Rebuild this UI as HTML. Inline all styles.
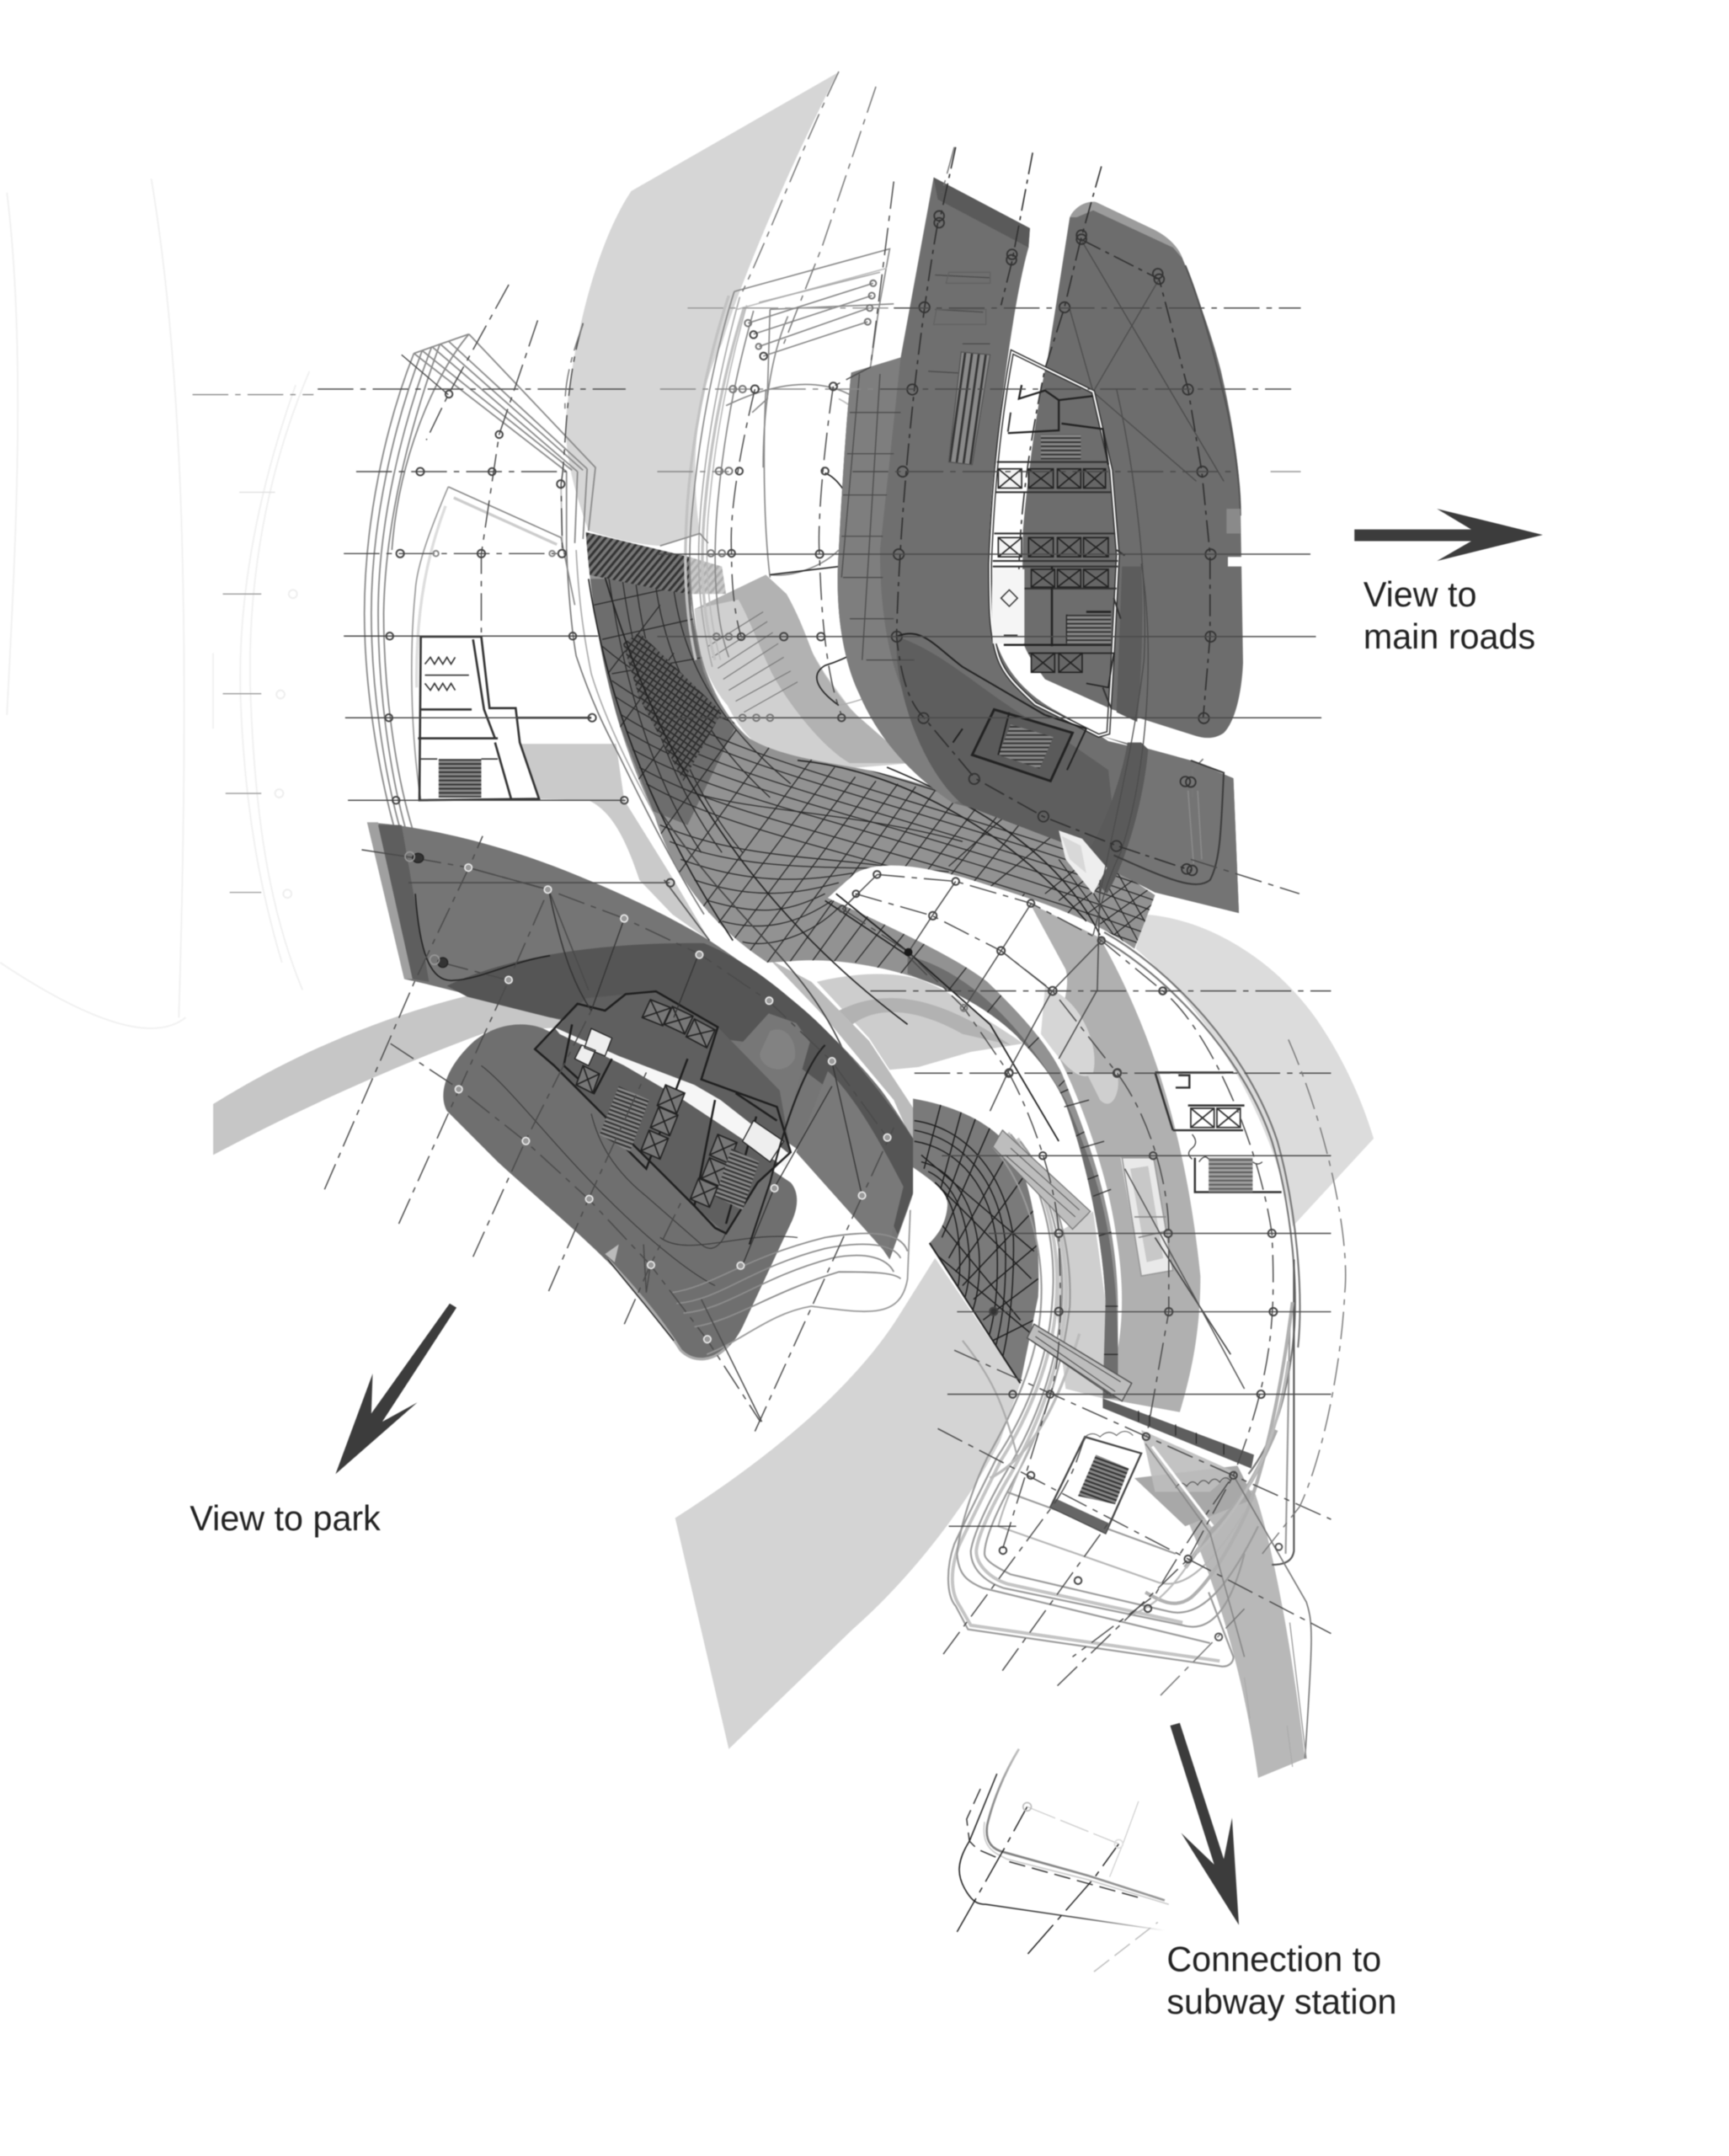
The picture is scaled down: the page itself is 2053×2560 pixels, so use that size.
<!DOCTYPE html>
<html>
<head>
<meta charset="utf-8">
<style>
html,body{margin:0;padding:0;background:#fff}
svg{display:block;filter:blur(0.5px)}
text{font-family:"Liberation Sans",sans-serif;font-size:25.3px;fill:#222}
</style>
</head>
<body>
<svg width="2053" height="2560" viewBox="0 0 1257.4 1568" xmlns="http://www.w3.org/2000/svg">
<defs>
<pattern id="hatch" width="4" height="4" patternUnits="userSpaceOnUse" patternTransform="rotate(40)"><rect width="4" height="4" fill="#777"/><rect width="1.8" height="4" fill="#333"/></pattern>
<pattern id="st" width="3" height="3" patternUnits="userSpaceOnUse"><rect width="3" height="3" fill="#888"/><rect width="3" height="1.2" fill="#333"/></pattern>
<pattern id="st2" width="5" height="3" patternUnits="userSpaceOnUse" patternTransform="rotate(8)"><rect width="5" height="3" fill="#8a8a8a"/><rect width="1.6" height="3" fill="#333"/></pattern>
<pattern id="st3" width="3" height="3" patternUnits="userSpaceOnUse" patternTransform="rotate(20)"><rect width="3" height="3" fill="#888"/><rect width="3" height="1.3" fill="#333"/></pattern>
<pattern id="dg" width="4" height="4" patternUnits="userSpaceOnUse" patternTransform="rotate(35)"><rect width="4" height="4" fill="#636363"/><rect width="1.1" height="4" fill="#2e2e2e"/><rect width="4" height="1.1" fill="#2e2e2e"/></pattern>
<linearGradient id="fadeR" x1="0" y1="0" x2="1" y2="0"><stop offset="0" stop-color="#222"/><stop offset=".6" stop-color="#555"/><stop offset="1" stop-color="#fff"/></linearGradient>
<linearGradient id="fadeT" x1="0" y1="1" x2="0.8" y2="0"><stop offset="0" stop-color="#666"/><stop offset=".5" stop-color="#999"/><stop offset="1" stop-color="#fff"/></linearGradient>
<clipPath id="mc"><path d="M426,387 L501,405 L503,445 C510,490 525,520 545,537 C570,552 610,555 640,562 C690,575 735,590 769,604 L840,651 L825,690 C790,665 745,652 700,638 C670,630 640,625 622,635 L602,653 L632,667 C670,685 700,700 718,714 C745,740 762,760 772,780 C790,825 812,880 813,947 L813,1017 L802,1017 L804,947 C802,900 790,845 775,803 C765,780 750,765 739,753 C720,735 695,720 663,710 C630,700 600,697 576,699 L558,700 C520,675 490,640 475,590 C450,540 432,470 426,387 Z"/></clipPath>
<clipPath id="lm"><path d="M664,799 C700,805 725,820 737,838 C750,860 757,900 755,943 L742,1006 L676,904 L689,877 L664,849 Z"/></clipPath>
</defs>
<rect width="1257.4" height="1568" fill="#fff"/>

<!-- faint ghosts far left -->
<g fill="none" stroke="#f1f1f1" stroke-width="1.2">
<path d="M225,270 C195,340 180,420 182,500 C185,590 195,660 220,720"/>
<path d="M215,280 C190,350 172,430 175,510 C178,590 190,650 205,700"/>
<path d="M5,140 C20,260 10,420 5,520"/>
<path d="M110,130 C130,250 140,420 130,740"/>
<path d="M0,700 C60,740 110,760 135,740"/>
<path d="M155,475 L155,530"/>
</g>
<g stroke="#999" stroke-width=".8" fill="none">
<path d="M174,358 L200,358" stroke="#ddd"/>
<path d="M162,432 L190,432"/>
<path d="M162,504.5 L190,504.5"/>
<path d="M164,577 L190,577"/>
<path d="M167,649 L190,649"/>
</g>
<g fill="none" stroke="#eee" stroke-width="1.2"><circle cx="213" cy="432" r="3"/><circle cx="204" cy="505" r="3"/><circle cx="203" cy="577" r="3"/><circle cx="209" cy="650" r="3"/></g>

<!-- light bands -->
<path d="M609,53 L459,139 C435,175 418,240 412,300 C410,325 415,350 428,386 C450,393 465,396 480,397 L509,388 C502,340 505,290 525,250 C540,200 575,120 609,53 Z" fill="#d6d6d6"/>
<path d="M491,1104 C560,1060 620,1010 653,958 L680,915 L742,1006 L727,1049 C700,1100 660,1150 620,1185 L530,1272 Z" fill="#d4d4d4"/>
<path d="M832,665 C880,668 930,700 960,745 C980,775 992,805 999,828 L940,892 C930,830 890,745 826,690 Z" fill="#dcdcdc"/>
<path d="M155,803 C200,775 260,745 333,726 L420,705 L450,745 L356,750 C300,770 220,805 155,840 Z" fill="#c6c6c6"/>
<path d="M378,541 L448,541 L454,582 L490,640 L516,684 L489,665 L465,640 C455,610 445,590 428,582 L392,581Z" fill="#cacaca"/>
<path d="M770,896 L795,881 L804,947 L802,1017 L775,1010 L768,950 Z" fill="#cfcfcf"/>
<path d="M854,1084 L912,1084 C925,1120 940,1200 949,1279 L915,1293 C905,1220 885,1150 854,1084 Z" fill="#b8b8b8"/>
<path d="M825,1075 L900,1066 L912,1090 L862,1110 Z" fill="#a8a8a8"/>

<!-- left wing outlines -->
<g fill="none" stroke="#8a8a8a" stroke-width="1.1">
<path d="M301,257 C280,310 265,380 265,446 C265,500 275,560 287,603"/>
<path d="M307,255 C286,310 270,380 270,446 C270,500 279,560 291,603"/>
<path d="M314,252 C292,310 275,380 275,446 C275,500 283,560 295,603"/>
<path d="M320,250 C298,310 280,380 279,446 C279,500 287,560 300,603"/>
<path d="M341,243 C318,270 290,330 285,400"/>
<path d="M301,257 L412,343"/><path d="M307,255 L416,342"/><path d="M314,252 L420,343"/><path d="M320,250 L424,342"/><path d="M326,248 L427,341"/><path d="M341,243 L433,340 L428,386"/>
<path d="M301,257 L341,243"/>
<path d="M412,343 L412,399"/><path d="M420,343 L418,395"/><path d="M427,341 L424,392"/>
<path d="M408,355 L409,400" stroke="#bbb"/>
</g>
<path d="M292,258 L326,287" stroke="#444" stroke-width=".8" fill="none"/>
<g fill="none" stroke="#777" stroke-width="1">
<path d="M412,399 C413,430 416,460 419,477 C430,510 440,530 450,549 C470,590 490,630 512,665"/>
<path d="M419,400 C421,440 425,465 430,490 C445,540 480,600 516,664" stroke="#aaa"/>
<path d="M326,354 L408,391 L418,440" stroke="#888"/>
<path d="M326,354 C315,380 303,410 302,430 C298,470 298,530 306,582" stroke="#999"/>
<path d="M330,362 L405,396" stroke="#ccc" stroke-width="2"/>
<path d="M324,368 C312,400 302,440 303,500" stroke="#ddd" stroke-width="2"/>
</g>
<g fill="none" stroke="#333" stroke-width="1.6">
<path d="M306,463 L350,463 L356,515 L375,515 L378,540 L392,581 L305,582 L306,463"/>
<path d="M305,516 L343,516"/><path d="M304,537 L362,537"/><path d="M360,540 L372,582"/>
<path d="M344,465 L352,516 L360,537"/><path d="M376,522 L430,522"/>
</g>
<rect x="319" y="552" width="31" height="28" fill="url(#st)"/>
<g fill="none" stroke="#333" stroke-width="1"><path d="M309,483 l4,-5 l3,5 l3,-5 l3,5 l3,-5 l3,5 l3,-5"/><path d="M309,491 h32"/><path d="M309,497 l4,5 l3,-5 l3,5 l3,-5 l3,5 l3,-5 l3,5"/><path d="M306,552 h12 M350,552 h12"/></g>

<!-- medium band & left part -->
<path d="M505,443 L557,418 L600,490 L640,545 L663,555 L615,559 C590,560 570,555 561,548 C545,540 535,525 529,513 C518,500 512,485 508,471 Z" fill="#d0d0d0"/>
<path d="M505,443 L557,418 L572,432 C585,455 590,475 594,481 C605,500 615,512 623,520 L663,555 L618,555 C600,545 575,515 561,489 C552,470 545,450 537,436 Z" fill="#b2b2b2"/>
<g fill="none" stroke="#777" stroke-width=".7"><path d="M515,470 L555,445 M518,478 L558,452 M522,486 L562,460 M526,494 L566,468 M530,502 L570,478 M535,510 L575,488 M541,518 L580,496"/></g>
<path d="M749,657 L800,682 C835,745 862,820 873,928 C873,970 866,1000 858,1027 L803,1017 C815,985 820,950 812,900 C805,850 785,800 775,779 L762,752 C775,735 778,715 775,705 Z" fill="#b0b0b0"/>
<path d="M760,718 C785,725 800,760 795,780 C785,790 770,770 757,752 Z" fill="#d6d6d6"/>
<path d="M790,780 L812,780 C816,790 810,810 800,800 Z" fill="#cfcfcf"/>
<!-- white lobe arcs behind -->
<path d="M594,714 C620,708 645,706 668,712 C685,718 695,725 708,735 C722,745 735,752 744,759 L706,765 L668,776 L647,778 L632,755 Z" fill="#cdcdcd"/>
<path d="M610,735 C650,715 690,730 735,760 L700,752 C670,735 640,730 620,745 Z" fill="#b2b2b2"/>
<path d="M560,698 L590,714 L632,757 L680,830 L700,880 L685,880 L650,800 L600,740 Z" fill="#bbb"/>
<path d="M834,876 L848,925 L830,928 L815,842 L839,842 Z" fill="#fff"/>

<!-- main mesh -->
<g clip-path="url(#mc)">
<rect x="400" y="370" width="450" height="660" fill="#929292"/>
<path d="M428,421 L501,421 L506,462 C512,495 522,515 534,530 L500,600 L475,590 L440,500 Z" fill="#6d6d6d"/>
<path d="M660,695 C700,705 740,740 775,800 C800,860 815,900 813,1017 L800,1017 C805,950 795,860 760,790 C730,750 700,725 660,708 Z" fill="#6e6e6e"/>
<g fill="none" stroke="#2c2c2c" stroke-width=".8">
<path d="M470,570 C540,610 640,620 840,690"/>
<path d="M465,558 C535,598 640,610 840,681"/>
<path d="M460,545 C530,585 640,600 840,672"/>
<path d="M456,532 C530,578 640,592 840,663"/>
<path d="M452,520 C530,570 640,585 840,655"/>
<path d="M448,507 C530,562 640,577 840,647"/>
<path d="M445,495 C530,555 640,570 840,640"/>
<path d="M438,470 C520,540 640,555 830,625"/>
<path d="M480,600 C550,630 620,620 700,640"/>
<path d="M487,612 C550,637 620,628 690,634"/>
<path d="M495,625 C550,645 590,640 620,635"/>
<path d="M505,640 C550,655 580,650 610,642"/>
<path d="M515,655 C550,665 570,665 600,650"/>
<path d="M525,670 C555,678 580,672 605,655"/>
<path d="M540,685 C560,690 590,680 610,660"/>
<path d="M500,575 C540,590 620,590 700,612"/>
<path d="M533,684 L622,565"/><path d="M545,692 L637,568"/><path d="M558,700 L653,570"/><path d="M574,700 L666,572"/><path d="M590,700 L680,575"/><path d="M606,700 L696,580"/><path d="M622,700 L712,585"/><path d="M638,704 L728,590"/><path d="M655,708 L745,595"/>
<path d="M519,676 L607,558"/><path d="M505,668 L592,550"/><path d="M490,640 L562,540"/><path d="M478,610 L536,530"/><path d="M462,570 L510,505"/><path d="M450,530 L490,475"/><path d="M442,490 L480,440"/>
<path d="M690,630 L735,590"/><path d="M720,645 L775,600"/><path d="M690,720 L745,650"/>
<path d="M715,740 L780,660"/><path d="M740,770 L790,720"/><path d="M770,790 L800,760"/>
<path d="M760,800 L782,790"/><path d="M775,830 L795,820"/><path d="M785,860 L806,852"/><path d="M795,900 L812,895"/><path d="M800,950 L815,950"/><path d="M802,985 L815,985"/>
<path d="M440,400 C450,480 470,560 510,620"/><path d="M450,400 C458,475 480,560 525,620"/><path d="M460,400 C465,470 490,560 540,620"/>
<path d="M475,410 C480,470 505,530 560,580"/><path d="M488,410 C492,470 515,520 575,570"/>
<path d="M432,440 L500,425"/><path d="M438,465 L505,450"/><path d="M445,490 L512,478"/>
</g>
<g fill="none" stroke="#222" stroke-width=".7">
<path d="M760,650 L810,610"/><path d="M770,655 L820,615"/><path d="M780,660 L830,622"/><path d="M790,665 L838,630"/><path d="M800,672 L845,640"/><path d="M810,680 L845,652"/>
<path d="M780,625 L820,690"/><path d="M795,625 L828,685"/><path d="M810,630 L838,680"/><path d="M770,625 L810,680"/>
</g>
<path d="M426,387 L501,405 L501,432 L481,429 L428,418 Z" fill="url(#hatch)"/>
<path d="M453,468 L465,460 L525,518 L497,568 L465,508 Z" fill="url(#dg)"/>
</g>
<path d="M501,405 L525,412 L528,432 L501,432 Z" fill="url(#hatch)" opacity=".4"/>
<g fill="none" stroke="#222" stroke-width="1">
<path d="M428,421 C440,500 470,590 533,684"/>
<path d="M440,420 C470,520 520,640 660,745"/>
<path d="M480,590 C540,680 590,700 620,780" stroke="#444"/>
<path d="M645,558 C710,585 770,620 800,680" />
<path d="M580,553 C650,560 730,600 790,670"/>
<path d="M608,650 L660,692 L720,745 L770,830" stroke-width="1.1"/>
<path d="M600,655 L660,695"/>
</g>

<!-- left middle wing (top-centre outlines) -->
<g fill="none" stroke="#c2c2c2" stroke-width="2">
<path d="M530,215 C520,245 505,300 500,365 C497,410 498,445 506,480"/>
<path d="M541,224 C533,250 519,300 513,365 C509,405 510,445 520,480"/>
</g>
<g fill="none" stroke="#888" stroke-width="1">
<path d="M534,212 L647,181 L639,225 L633,267"/>
<path d="M534,212 C525,240 510,300 504,365 C500,400 500,440 512,488 C520,510 530,525 545,540"/>
<path d="M538,216 C530,245 516,300 510,365 C506,410 508,445 518,485" stroke="#aaa"/>
<path d="M543,222 C535,250 522,300 516,365 C512,400 514,445 524,480" stroke="#bbb"/>
<path d="M548,226 C540,255 528,300 522,365 C518,410 520,450 530,478"/>
<path d="M544,235 L635,206"/><path d="M548,243 L634,215"/><path d="M552,252 L632,224"/><path d="M555,259 L631,234"/>
<path d="M536,225 L645,195" stroke="#bbb"/>
<path d="M552,220 L640,198" stroke="#aaa"/>
<path d="M560,225 L558,290 L547,300"/><path d="M560,225 L650,221"/>
<path d="M573,230 C560,260 555,300 555,340"/>
<path d="M515,395 L509,388 L480,397"/>
<path d="M528,295 C600,260 640,290 650,330 C650,360 640,390 620,400"/>
<path d="M610,290 C630,300 640,320 648,340" stroke="#bbb"/>
<path d="M557,283 C555,320 555,380 560,420"/>
<path d="M560,418 C580,420 600,410 610,400"/>
</g>
<path d="M600,344 C610,348 617,360 625,380 C630,398 622,410 610,412 L560,418" fill="none" stroke="#222" stroke-width="1"/>
<path d="M652,463 C630,468 620,478 600,484 C590,490 592,500 610,513" fill="none" stroke="#222" stroke-width="1"/>
<path d="M610,513 C625,510 640,505 648,495" fill="none" stroke="#aaa" stroke-width=".8"/>

<!-- dark wing -->
<path d="M267,598 C300,600 350,610 403,630 C450,648 490,668 516,684 C540,700 565,718 583,733 C605,753 625,773 641,793 C655,812 665,830 673,842 L660,880 L647,916 C630,890 605,860 583,838 L500,780 L420,745 C380,735 340,722 294,712 Z" fill="#757575"/>
<path d="M325,717 C370,695 440,685 512,686 C545,700 565,718 583,733 C615,760 650,805 673,842 L653,898 C640,870 620,830 600,790 L560,760 L480,750 L400,740 L340,725 Z" fill="#555"/>
<path d="M540,758 L559,737 L579,744 L589,758 L571,821 L528,782 Z" fill="#777"/>
<path d="M602,779 L579,838 L645,912 L657,863 C640,830 620,795 602,779 Z" fill="#797979"/>
<path d="M560,750 C570,745 580,755 578,770 C570,785 550,775 553,765 Z" fill="#828282"/>
<path d="M267,598 L294,712 L300,712 L275,598 Z" fill="#a0a0a0"/>
<path d="M275,600 L300,712 L312,714 L292,600 Z" fill="#5e5e5e"/>
<path d="M302,650 C305,690 312,715 330,713 C350,712 370,700 400,695" fill="none" stroke="#222" stroke-width="1"/>
<path d="M483,640 L516,684" stroke="#555" stroke-width="1"/>

<!-- blob -->
<path d="M325,808 C318,795 325,775 345,757 C360,745 380,742 395,748 L440,770 L575,860 C582,868 580,880 575,890 L540,965 C530,985 515,992 505,988 C495,985 490,975 478,958 C445,915 400,880 362,845 Z" fill="#6f6f6f"/>
<path d="M442,916 C460,935 480,958 495,982 C505,992 520,990 530,978" fill="none" stroke="#aaa" stroke-width="2"/>
<path d="M442,916 L470,950 L490,975" fill="none" stroke="#333" stroke-width="1"/>
<path d="M440,912 L450,905 L447,918 Z" fill="#bbb"/>
<g fill="none" stroke="#3c3c3c" stroke-width=".7">
<path d="M350,775 C370,790 400,830 440,870 C470,900 500,925 520,935"/>
<path d="M430,810 C435,830 445,850 470,870 L510,905 C518,912 525,905 528,896"/>
<path d="M480,900 C500,915 540,895 580,900"/>
</g>
<g fill="none" stroke="#8d8d8d" stroke-width="1.1">
<path d="M489,940 C520,935 540,915 600,900 C630,895 655,895 660,910"/>
<path d="M492,948 C525,945 545,922 600,908 C630,902 650,905 655,915"/>
<path d="M497,955 C530,952 550,930 605,915 C630,910 645,915 650,925"/>
<path d="M505,965 C535,960 560,940 610,925 C630,925 650,925 655,930"/>
<path d="M514,985 C540,975 560,955 590,950 C630,955 655,960 660,930 L662,880" stroke="#999"/>
</g>

<!-- core lower -->
<path d="M389,763 L426,726 L477,721 L522,747 L567,793 L575,838 L551,860 L528,897 L505,877 L403,775 Z" fill="#5f5f5f"/>
<path d="M403,747 L450,768 L505,789 L524,800 L575,840 L571,849 L497,800 L454,775 L407,752 Z" fill="#f6f6f6"/>
<g fill="none" stroke="#1e1e1e" stroke-width="1.5">
<path d="M389,763 L420,730 L440,735 L455,723 L477,721 L522,747 L510,785 L565,805 L575,838 L551,860 L528,897 L520,893 L505,877 L403,775 Z"/>
<path d="M416,745 L410,775 L432,795 L445,770"/>
<path d="M500,770 L470,850 L455,835"/>
<path d="M520,800 L505,877"/><path d="M550,812 L528,890"/><path d="M535,795 L565,815"/>
</g>
<g stroke="#222" stroke-width="1" fill="#777">
<path d="M473,727 l15,6 l-6,13 l-15,-6 Z M473,727 l9,19 M488,733 l-21,7"/>
<path d="M489,732 l15,7 l-6,13 l-15,-7 Z M489,732 l9,20 M504,739 l-21,6"/>
<path d="M505,741 l15,8 l-6,13 l-15,-8 Z M505,741 l9,21 M520,749 l-21,5"/>
<path d="M484,789 l14,6 l-6,15 l-14,-6 Z M484,789 l8,21 M498,795 l-20,9"/>
<path d="M479,805 l14,6 l-6,15 l-14,-6 Z M479,805 l8,21 M493,811 l-20,9"/>
<path d="M472,822 l14,6 l-6,15 l-14,-6 Z M472,822 l8,21 M486,828 l-20,9"/>
<path d="M522,825 l14,6 l-6,15 l-14,-6 Z M522,825 l8,21 M536,831 l-20,9"/>
<path d="M516,842 l14,6 l-6,15 l-14,-6 Z M516,842 l8,21 M530,848 l-20,9"/>
<path d="M508,857 l14,6 l-6,15 l-14,-6 Z M508,857 l8,21 M522,863 l-20,9"/>
<path d="M424,775 l12,6 l-5,14 l-12,-6 Z M424,775 l7,20 M436,781 l-17,8"/>
</g>
<path d="M450,790 L472,800 L458,838 L436,825 Z" fill="url(#st3)"/>
<path d="M532,835 L552,845 L540,880 L520,870 Z" fill="url(#st3)"/>
<path d="M423,760 L433,764 L428,775 L418,770 Z M430,748 L445,755 L440,768 L425,762 Z" fill="#eee" stroke="#222" stroke-width=".8"/>
<path d="M548,815 L570,830 L560,845 L540,830 Z" fill="#eee" stroke="#222" stroke-width=".8"/>
<path d="M600,760 C590,770 575,800 560,860 L545,905" fill="none" stroke="#222" stroke-width="1.3"/>

<!-- top tower -->
<path d="M679,129 L749,166 L748,180 C738,215 728,290 722,350 C718,400 718,440 722,458 C728,485 745,505 770,518 L800,535 L806,539 L866,553 L897,566 L901,664 L840,649 L805,631 L787,610 L769,604 L693,584 C665,565 640,540 625,505 C612,478 607,440 610,400 C612,360 615,310 619,271 L655,260 Z" fill="#6f6f6f"/>
<path d="M619,271 L655,260 L640,400 C640,440 645,480 660,510 C675,540 690,560 705,580 L693,584 C665,565 640,540 625,505 C612,478 607,440 610,400 C612,360 615,310 619,271 Z" fill="#7e7e7e"/>
<path d="M652,463 C690,475 720,510 770,535 L806,560 L812,615 L800,623 L760,608 L700,585 C670,560 650,500 652,463 Z" fill="#5e5e5e"/>
<path d="M800,535 L866,553 L897,566 L901,664 L840,649 L805,631 C815,600 825,570 830,545 Z" fill="#747474"/>
<path d="M679,129 L749,166 L748,180 L682,145 Z" fill="#5a5a5a"/>
<path d="M830,540 L835,545 C832,580 820,625 805,650 L785,628 C800,610 815,570 820,540 Z" fill="#5a5a5a"/>
<path d="M770,604 L787,610 L805,631 L795,650 L775,625 Z" fill="#eee"/>
<path d="M772,608 L786,615 L790,635 L778,625 Z" fill="#d8d8d8"/>
<path d="M778,158 C782,150 790,146 797,147 L837,166 C850,172 857,180 860,188 C873,220 883,250 888,270 C895,300 900,330 902,360 L904,482 C903,505 898,525 890,533 C883,538 875,537 869,535 L809,516 L760,494 C750,480 743,470 743,460 L744,385 C748,340 755,290 762,260 Z" fill="#6d6d6d"/>
<path d="M816,412 L830,412 C832,450 830,490 827,525 L812,518 Z" fill="#5c5c5c"/>
<path d="M778,158 C782,150 790,146 797,147 L837,166 C850,172 857,180 860,188 L853,180 L795,153 L783,158 Z" fill="#9c9c9c"/>
<path d="M862,193 C875,225 885,265 893,300 C899,330 902,355 902,375" fill="none" stroke="#555" stroke-width="1.3"/>
<path d="M892,370 L902,370 L902,388 L892,388 Z" fill="#8a8a8a"/>
<path d="M893,405 L903,405 L903,412 L893,412 Z" fill="#fff"/>
<path d="M875,552 L867,560 L867,580" fill="none" stroke="#777" stroke-width="1"/>

<g fill="none" stroke="#4c4c4c" stroke-width=".8">
<path d="M778,225 L795,285 L870,350"/><path d="M843,203 L795,285"/><path d="M786,174 L890,350" stroke="#4a4a4a"/>
<path d="M812,283 C825,340 835,420 832,480 C825,540 810,600 800,650"/>
<path d="M830,410 C840,470 835,560 815,620 C805,640 800,660 795,680"/>
<path d="M700,250 L720,250 M680,200 L720,202 M680,225 L715,227 M675,270 L710,272"/>
<path d="M690,198 H720 V206 H688 Z" stroke="#626262"/>
<path d="M681,225 H717 V236 H679 Z" stroke="#626262"/>
<path d="M618,300 H655 M616,330 H650 M613,360 H645 M612,390 H642 M613,420 H642 M618,450 H650 M630,480 H665"/>
<path d="M640,272 L627,480 M625,272 L612,420"/>
</g>
<path d="M699,256 L720,258 L707,338 L690,336 Z" fill="url(#st2)" stroke="#555" stroke-width=".8"/>
<g fill="none" stroke="#303030" stroke-width="1" stroke-dasharray="16 4 3 4">
<path d="M682,162 C670,230 655,350 652,463 C655,490 660,510 672,522 L709,566 L759,594 L812,615 L866,633"/>
<path d="M786,174 L774,224 L760,268 C745,340 738,400 742,460"/>
<path d="M786,174 L843,203 L864,283 L874,343 L880,403 L880,463 L875,522"/>
<path d="M736,190 L728,222"/>
<path d="M695,107 L683,162"/><path d="M751,111 L736,190"/><path d="M801,121 L786,174"/>
</g>

<!-- core -->
<g fill="none">
<path d="M736,256 L795,285 L808,342 L813,404 L809,482 L806,533 L799,535 L753,512 C738,498 730,490 726,478 C720,460 720,440 720,410 C722,360 726,310 736,256 Z" stroke="#333" stroke-width="3"/>
<path d="M736,256 L795,285 L808,342 L813,404 L809,482 L806,533 L799,535 L753,512 C738,498 730,490 726,478 C720,460 720,440 720,410 C722,360 726,310 736,256 Z" stroke="#fff" stroke-width="1.2"/>
<path d="M743,280 L741,290 L760,284 L770,291 L770,313 L733,315" stroke="#222" stroke-width="1.4"/>
<path d="M770,291 L795,288 M772,308 L802,312 L806,338" stroke="#222" stroke-width="1.4"/>
<path d="M725,336 L806,336 M724,358 L808,358" stroke="#333" stroke-width="1.3"/>
<path d="M723,388 L811,388 M722,408 L813,408 M722,412 L813,412 M721,428 L812,428" stroke="#333" stroke-width="1.3"/>
<path d="M765,412 L765,470 M730,469 L808,469 M790,445 L808,445 M776,447 L776,468" stroke="#222" stroke-width="1.5"/>
<path d="M748,475 L810,475 L806,500 L790,497" stroke="#222" stroke-width="1"/>
<path d="M735,300 L733,314 M812,400 L818,404 M810,435 L815,450 M802,500 L808,515" stroke="#333" stroke-width="1.2"/>
</g>
<path d="M727,414 H745 V468 H722 C721,450 721,430 722,414 Z" fill="#f5f5f5"/>
<path d="M728,435 l6,-6 l6,6 l-6,6 Z M730,462 h10" fill="none" stroke="#333" stroke-width=".9"/>
<g stroke="#222" stroke-width="1">
<g fill="#f3f3f3"><path d="M726,341 h17 v14 h-17 Z M726,341 l17,14 M743,341 l-17,14"/><path d="M726,391 h17 v14 h-17 Z M726,391 l17,14 M743,391 l-17,14"/></g>
<g fill="#666">
<path d="M748,341 h18 v14 h-18 Z M748,341 l18,14 M766,341 l-18,14"/>
<path d="M769,341 h17 v14 h-17 Z M769,341 l17,14 M786,341 l-17,14"/>
<path d="M788,341 h16 v14 h-16 Z M788,341 l16,14 M804,341 l-16,14"/>
<path d="M748,391 h18 v14 h-18 Z M748,391 l18,14 M766,391 l-18,14"/>
<path d="M769,391 h17 v14 h-17 Z M769,391 l17,14 M786,391 l-17,14"/>
<path d="M788,391 h18 v14 h-18 Z M788,391 l18,14 M806,391 l-18,14"/>
<path d="M750,414 h17 v13 h-17 Z M750,414 l17,13 M767,414 l-17,13"/>
<path d="M769,414 h17 v13 h-17 Z M769,414 l17,13 M786,414 l-17,13"/>
<path d="M788,414 h18 v13 h-18 Z M788,414 l18,13 M806,414 l-18,13"/>
<path d="M750,475 h17 v14 h-17 Z M750,475 l17,14 M767,475 l-17,14"/>
<path d="M770,475 h17 v14 h-17 Z M770,475 l17,14 M787,475 l-17,14"/>
</g>
</g>
<rect x="757" y="316" width="29" height="18" fill="url(#st)"/>
<rect x="776" y="447" width="32" height="22" fill="url(#st)"/>
<path d="M723,516 L780,533 L764,568 L707,549 Z" fill="#5a5a5a" stroke="#222" stroke-width="1.8"/>
<path d="M735,527 L766,536 L756,559 L726,549 Z" fill="url(#st)"/>
<path d="M734,518 L726,549 M693,540 L700,530 M776,560 L790,530" stroke="#222" stroke-width="1.2" fill="none"/>
<g fill="none" stroke="#333" stroke-width="1.1">
<circle cx="683" cy="162" r="3.6"/><circle cx="683" cy="157" r="3.6"/><circle cx="735.6" cy="189" r="3.6"/><circle cx="736" cy="185" r="3.6"/>
<circle cx="786.5" cy="174" r="3.6"/><circle cx="786.5" cy="171" r="3.6"/><circle cx="843" cy="203" r="3.6"/><circle cx="842" cy="199" r="3.6"/>
<circle cx="672.3" cy="223.5" r="3.8"/><circle cx="774.2" cy="223.5" r="3.8"/><circle cx="663.5" cy="283.3" r="3.8"/><circle cx="863.9" cy="283.3" r="3.8"/>
<circle cx="656.5" cy="343" r="3.8"/><circle cx="874.4" cy="343" r="3.8"/><circle cx="653.6" cy="403.2" r="3.8"/><circle cx="880.4" cy="403.2" r="3.8"/>
<circle cx="652.2" cy="463" r="3.8"/><circle cx="880.4" cy="463" r="3.8"/><circle cx="671.6" cy="522.3" r="3.8"/><circle cx="875.5" cy="522.3" r="3.8"/>
<circle cx="708.5" cy="566.5" r="3.8"/><circle cx="758.8" cy="593.8" r="3.8"/><circle cx="811.9" cy="615.3" r="3.8"/>
<circle cx="862" cy="568.4" r="3.6"/><circle cx="866" cy="568.8" r="3.6"/><circle cx="863" cy="632" r="3.6"/><circle cx="867" cy="633" r="3.6"/>
</g>
<path d="M864,575 L868,628 M871,575 L874,625" stroke="#8a8a8a" stroke-width="1" fill="none"/>
<path d="M866,553 L890,562 C888,600 888,625 880,640 C870,648 850,640 810,622" fill="none" stroke="#3a3a3a" stroke-width="1.2"/>
<path d="M652,463 C670,455 680,470 700,485 L760,520" fill="none" stroke="#222" stroke-width="1.2"/>
<path d="M760,520 L790,530" fill="none" stroke="#222" stroke-width="1.2"/>

<!-- lower fan mesh -->
<path d="M664,799 C700,805 725,820 737,838 C750,860 757,900 755,943 L742,1006 L676,904 L689,877 L664,849 Z" fill="#7a7a7a"/>
<g clip-path="url(#lm)" fill="none" stroke="#1e1e1e" stroke-width=".9">
<path d="M665,815 C700,820 730,850 737,900 C738,950 730,990 725,1000"/>
<path d="M665,822 C698,828 725,855 731,902 C733,950 725,982 718,995"/>
<path d="M665,830 C695,835 720,860 725,905 C727,950 720,975 712,990"/>
<path d="M670,845 C690,850 708,870 712,910 C714,940 706,960 700,970"/>
<path d="M675,852 C692,860 703,880 705,915 C706,935 700,950 696,960"/>
<path d="M680,860 C692,870 698,890 698,920 C698,935 695,945 692,950"/>
<path d="M710,812 L682,890"/><path d="M720,820 L685,900"/><path d="M735,835 L690,915"/><path d="M745,855 L695,925"/><path d="M752,880 L700,935"/><path d="M755,905 L708,945"/>
<path d="M755,930 L715,960"/><path d="M752,960 L722,975"/><path d="M700,805 L680,880"/><path d="M685,800 L672,850"/>
<path d="M676,880 L742,960"/><path d="M680,860 L750,930"/><path d="M670,840 L752,910"/>
<path d="M672,905 L750,970"/>
</g>
<path d="M664,849 C680,860 690,868 689,877 C688,890 682,898 676,904 L664,885 Z" fill="#fff"/>
<path d="M676,904 L742,1006" stroke="#222" stroke-width="1.2"/>
<!-- right building lines -->
<g fill="none" stroke="#777" stroke-width="1.3">
<path d="M800,682 C850,710 905,770 925,830 C940,880 945,940 940,980 C935,1020 925,1050 908,1072"/>
<path d="M803,678 C853,706 908,766 929,830 C943,880 948,940 944,980"/>
<path d="M941,916 L941,1128 C940,1135 935,1138 925,1138" stroke="#555"/>
<path d="M938,960 L935,1130" stroke="#999"/>
</g>
<path d="M940,947 C932,1010 920,1065 907,1099 C895,1125 880,1150 866,1162 C855,1170 845,1165 833,1158" fill="none" stroke="#b0b0b0" stroke-width="2.5"/>
<path d="M928,1040 C915,1070 905,1090 880,1115 L862,1140" fill="none" stroke="#aaa" stroke-width="3"/>
<path d="M937,990 C930,1040 915,1085 870,1130" fill="none" stroke="#bbb" stroke-width="2"/>
<path d="M802,1017 L912,1058 L910,1068 L802,1024 Z" fill="#5e5e5e"/>
<g stroke="#2a2a2a" stroke-width=".8" fill="none"><path d="M828,1026 l0,8 M836,1029 l0,8 M855,1036 l0,8 M870,1042 l0,8 M890,1050 l0,8"/></g>
<path d="M774,805 L792,800 M786,835 L803,830 M795,870 L808,865" stroke="#333" stroke-width=".8"/>
<g fill="none" stroke="#c4c4c4" stroke-width="2.4">
<path d="M733,824 C758,852 772,900 768,950 C765,990 748,1030 728,1062 C718,1082 703,1112 697,1125 C691,1142 691,1158 698,1168 L706,1182 L887,1208"/>
<path d="M740,828 C762,858 778,900 775,950 C770,1000 752,1042 735,1072 C723,1092 711,1116 710,1128 C710,1138 720,1148 733,1152 L860,1180"/>
</g>
<g fill="none" stroke="#9a9a9a" stroke-width="1.3">
<path d="M729,822 C755,850 770,900 765,950 C762,990 745,1030 725,1060 C715,1080 700,1110 694,1123 C688,1140 688,1160 695,1168 L704,1185 L889,1212 C895,1212 897,1208 897,1205 L879,1158"/>
<path d="M722,834 C745,860 760,905 757,950 C755,990 735,1030 718,1060 C708,1080 698,1110 696,1130 C697,1145 703,1150 715,1155 L880,1195"/>
<path d="M735,825 C760,855 775,900 772,950 C768,1000 750,1040 732,1070 C720,1090 708,1115 706,1128 C706,1140 715,1150 730,1155 L860,1182 C880,1188 895,1170 905,1130"/>
<path d="M742,830 C765,860 780,900 778,950 C772,1000 755,1045 738,1075 C727,1095 716,1118 716,1130 C716,1135 725,1140 735,1145 L850,1172 C875,1178 895,1150 915,1110"/>
<path d="M755,1040 C740,1070 730,1095 726,1110 L840,1150 C860,1158 880,1140 905,1100" stroke="#b5b5b5"/>
<path d="M732,1085 L855,1130"/>
<path d="M700,975 C720,1000 730,1020 740,1060" stroke="#aaa"/>
<path d="M720,1075 C750,1060 770,1020 785,970" stroke="#bbb" stroke-width="2"/>
<path d="M880,1110 C860,1150 840,1170 820,1175" stroke="#bbb"/>
</g>
<path d="M729,822 L793,881 L780,894 L722,834 Z" fill="#bdbdbd" stroke="#777" stroke-width=".8"/>
<path d="M735,835 L785,880 M731,840 L782,885" stroke="#555" stroke-width=".6"/>
<path d="M752,963 L823,1006 L816,1019 L747,973 Z" fill="#bdbdbd" stroke="#555" stroke-width=".9"/>
<path d="M755,968 L815,1005 M753,972 L811,1012 M750,975 L808,1015" stroke="#444" stroke-width=".6"/>
<!-- room right -->
<g fill="none" stroke="#333" stroke-width="1.5">
<path d="M840,780 L897,780"/><path d="M840,780 L853,822"/><path d="M857,782 L865,782 L865,791 L855,791"/>
<path d="M869,842 L869,867 L932,867"/><path d="M853,822 L904,822 M864,804 L905,804"/>
</g>
<g stroke="#333" stroke-width="1.1" fill="#fff"><path d="M866,806 h17 v14 h-17 Z M866,806 l17,14 M883,806 l-17,14"/><path d="M885,806 h17 v14 h-17 Z M885,806 l17,14 M902,806 l-17,14"/></g>
<rect x="879" y="842" width="32" height="25" fill="url(#st)" opacity=".8"/>
<path d="M867,825 q5,6 0,10 q-5,4 0,8 M872,845 q4,-6 7,-2 M911,845 q4,3 7,0" fill="none" stroke="#444" stroke-width=".8"/>
<path d="M816,842 L839,842 L853,924 L830,928 Z" fill="#e9e9e9" stroke="#999" stroke-width="1"/>
<path d="M822,850 L835,848 L846,915 L834,918 Z" fill="#c8c8c8"/><path d="M825,885 L848,885 M828,900 L850,895" stroke="#888"/>
<!-- stair bottom -->
<path d="M789,1045 L830,1057 L804,1115 L764,1096 Z" fill="#fff" stroke="#444" stroke-width="1.4"/>
<path d="M797,1058 L821,1068 L811,1094 L784,1088 Z" fill="url(#st3)"/>
<path d="M764,1096 L804,1115 L807,1108 L768,1090 Z" fill="#666"/>
<path d="M830,1040 L897,1070 L880,1085 L840,1085 Z" fill="#bcbcbc" opacity=".9"/>
<path d="M855,1082 q4,-6 8,-1 q4,-6 8,-1 q4,-6 8,-1 q4,-6 8,-1 q4,-6 8,-1" fill="none" stroke="#555" stroke-width=".7"/>
<path d="M788,1046 q6,-6 12,-1 q6,-6 12,-1 q6,-6 12,0" fill="none" stroke="#666" stroke-width=".7"/>
<path d="M897,1073 L950,1165 C955,1180 955,1190 949,1279" fill="none" stroke="#777" stroke-width="1"/>
<path d="M833,1050 L880,1115 L905,1205" fill="none" stroke="#888" stroke-width="1"/>
<path d="M838,1052 L882,1110" fill="none" stroke="#fff" stroke-width="2"/>
<path d="M840,900 L895,985" stroke="#444" stroke-width="1" fill="none"/>
<path d="M818,850 L905,1010" stroke="#555" stroke-width=".9" fill="none"/>

<!-- grid dash-dot lines -->
<g fill="none" stroke="#4a4a4a" stroke-width=".9">
<g stroke-dasharray="26 5 4 5">
<path d="M140,287 L228,287" stroke="#888"/>
<path d="M231,283 L455,283"/>
<path d="M259,343 L412,343"/>
<path d="M250,402.6 L412,402.6"/>
<path d="M480,283 L640,283" stroke="#888"/>
<path d="M478,343 L530,343" stroke="#888"/>
<path d="M633,720.7 L968,720.7"/>
<path d="M665,780.5 L968,780.5"/>
<path d="M500,224 L650,224" stroke="#999"/>
<path d="M650,224 L946,224"/>
<path d="M640,283 L939,283"/>
<path d="M620,343 L896,343"/><path d="M924,343 L946,343" stroke="#999"/>
</g>
<path d="M250,462.6 L435,462.6" stroke="#444"/>
<path d="M251,522 L430,522"/>
<path d="M253,582 L455,582"/>
<path d="M297,642 L487,642"/>
<path d="M263,618 L302,624"/>
<path d="M478,403 L953,403"/>
<path d="M478,463 L957,463"/>
<path d="M488,522 L961,522"/>
<path d="M685,840.5 L968,840.5"/>
<path d="M719,897 L968,897"/>
<path d="M696,954 L968,954"/>
<path d="M689,1014 L968,1014"/>
<g stroke-dasharray="20 5 4 5">
<path d="M682,1039 L968,1188"/>
<path d="M694,982 L968,1105"/>
<path d="M866,625 L945,650"/>
<path d="M686,1203 L762,1100 C785,1070 785,1050 790,1045"/>
<path d="M729,1215 L808,1105"/>
<path d="M769,1226 L864,1134 L897,1073"/>
<path d="M844,1233 L886,1190 L905,1170" stroke="#777"/>
<path d="M937,756 C965,820 982,900 978,940 C975,1000 960,1065 945,1096 L918,1130" stroke="#7a7a7a"/>
<path d="M284,759 L334,792 L382,830 L428,872 L473,920 L514,974 L553,1034"/>
<path d="M341,631 L398,647 L454,668 L509,694 L559,728 L605,772 L645,827"/>
<path d="M301,624 L341,631"/>
<path d="M321,700 L370,713"/>
<path d="M236,865 L301,715 L341,631 L351,608"/>
<path d="M290,890 L334,792 L370,713 L399,647"/>
<path d="M344,914 L382,830 L430,735"/>
<path d="M399,939 L428,872 L470,780"/>
<path d="M454,963 L473,920 L495,875"/>
<path d="M549,1041 L627,870 L650,820"/>
<path d="M370,207 L326,287 L310,320"/>
<path d="M391,233 L363,316 L350,403 L350,460"/>
<path d="M424,235 C410,280 412,330 408,352 L409,403"/>
<path d="M610,52 C580,115 560,170 540,212" stroke="#777"/>
<path d="M637,63 L598,179 L570,250" stroke="#777"/>
<path d="M694,107 L685,140" stroke="#777"/>
<path d="M650,132 L633,267 L606,281"/>
<path d="M606,281 C600,320 594,380 596,404 C597,440 600,490 612,520"/>
<path d="M424,236 C415,260 410,280 411,300" stroke="#777"/>
<path d="M549,283 C540,320 530,370 532,402 C532,430 535,450 539,463"/>
<path d="M638,636 L695,641 L750,657 L801,684 L846,721 C880,750 915,830 925,897 C928,960 925,1000 897,1073 C885,1090 860,1125 840,1160 L780,1205"/>
<path d="M622,650 L678,666 L728,691.5 L765.5,720.7 L812,780 C835,810 850,860 850,897 L850,954 L834,1044"/>
<path d="M612.6,661 L660.6,692.5 L701,733 L733.7,780.5 C750,810 768,860 770,897 C772,950 772,985 764,1014 L729,1127"/>
<path d="M660,695 L675,710" />
</g>
<path d="M638,636 L612.6,661"/>
<path d="M695,641 L678,666 L660.6,692.5"/>
<path d="M750,657 L728,691.5 L700,735"/>
<path d="M801,684 L765,721 L733,780 L720,808"/>
<path d="M728,691.5 L765,720.7"/>
<path d="M800,640 L798,720 L770,770"/>
<path d="M554,1034 L510,945"/>
<path d="M340,631 L399,647 L428,720"/>
<path d="M399,647 C410,700 420,720 430,735" stroke="#333"/>
<path d="M468,905 L470,940 L473,920"/>
</g>
<g fill="none" stroke="#333" stroke-width=".8">
<path d="M627,870 L605,772 M563,864 L605,790"/>
<path d="M454,668 L430,735"/>
<path d="M508,694 L490,740"/>
<path d="M563,864 L540,920"/>
<path d="M739,1110 L690,1110"/>
</g>

<!-- nodes left wing -->
<g fill="none" stroke="#444" stroke-width="1.2">
<circle cx="326.5" cy="286.6" r="2.6"/><circle cx="363" cy="316" r="2.6"/><circle cx="305.6" cy="343" r="2.8"/><circle cx="357.8" cy="343" r="2.6"/><circle cx="407.8" cy="352" r="2.8"/>
<circle cx="291" cy="402.6" r="2.8"/><circle cx="317" cy="402.6" r="2" stroke="#888"/><circle cx="350" cy="402.6" r="2.8"/><circle cx="401.5" cy="402.6" r="2" stroke="#888"/><circle cx="408.7" cy="402.6" r="2.8"/>
<circle cx="283.4" cy="462.6" r="2.6"/><circle cx="416.5" cy="462.6" r="2.6"/><circle cx="282.8" cy="522" r="2.6"/><circle cx="430.6" cy="522" r="2.8"/><circle cx="288" cy="582" r="2.6"/><circle cx="454" cy="582" r="2.6"/><circle cx="487.5" cy="642" r="2.8"/>
<circle cx="544" cy="235" r="2.4" stroke="#777"/><circle cx="548" cy="243.4" r="2.6"/><circle cx="551.7" cy="252" r="2" stroke="#777"/><circle cx="555.3" cy="259" r="2.6"/>
<circle cx="635" cy="206" r="2.2" stroke="#777"/><circle cx="634" cy="215" r="2.2" stroke="#777"/><circle cx="632.5" cy="224" r="2.2" stroke="#777"/><circle cx="631" cy="234" r="2.2" stroke="#777"/>
<circle cx="549" cy="283" r="2.8"/><circle cx="540" cy="283" r="2.5" stroke="#777"/><circle cx="533" cy="283" r="2.5" stroke="#777"/>
<circle cx="537.6" cy="342.6" r="2.6"/><circle cx="530" cy="342.6" r="2.6" stroke="#777"/><circle cx="523" cy="342.6" r="2.6" stroke="#777"/>
<circle cx="532" cy="402.4" r="2.6"/><circle cx="525" cy="402.4" r="2.4" stroke="#777"/><circle cx="517" cy="402.4" r="2.4" stroke="#777"/>
<circle cx="539" cy="463" r="2.6"/><circle cx="530" cy="463" r="2.4" stroke="#777"/><circle cx="521" cy="463" r="2.4" stroke="#777"/>
<circle cx="606" cy="281" r="2.8"/><circle cx="600" cy="342.6" r="2.6"/><circle cx="596" cy="403" r="2.8"/><circle cx="597" cy="463" r="2.8"/><circle cx="570" cy="463" r="2.8"/><circle cx="612" cy="522" r="2.6"/>
<circle cx="560" cy="522" r="2.4" stroke="#777"/><circle cx="550" cy="522" r="2.4" stroke="#777"/><circle cx="540" cy="522" r="2.4" stroke="#777"/>
<circle cx="637.8" cy="636" r="2.6"/><circle cx="695" cy="641" r="2.6"/><circle cx="749.7" cy="657" r="2.6"/><circle cx="801" cy="684" r="2.6"/><circle cx="845.5" cy="720.7" r="2.6"/>
<circle cx="622.5" cy="650" r="2.4"/><circle cx="678.4" cy="666" r="2.8"/><circle cx="728" cy="691.5" r="2.8"/><circle cx="765.5" cy="720.7" r="3"/><circle cx="612.6" cy="661" r="2.4"/>
<circle cx="701" cy="733" r="2.4" stroke="#777"/><circle cx="733.7" cy="780.5" r="2.8"/><circle cx="812.4" cy="780.5" r="2.8"/>
<circle cx="758.4" cy="840.5" r="2.6"/><circle cx="838.6" cy="840.5" r="2.6"/><circle cx="734" cy="780" r="2.6"/><circle cx="812.7" cy="780" r="2.6"/>
<circle cx="749.7" cy="1073" r="2.6"/><circle cx="729.4" cy="1127.6" r="2.6"/><circle cx="784" cy="1149.5" r="2.6"/><circle cx="834.8" cy="1169.8" r="2.6"/><circle cx="864" cy="1133.8" r="2.6"/><circle cx="886.3" cy="1190.5" r="2.6" stroke="#555"/>
<circle cx="833.5" cy="1044.8" r="2.6"/><circle cx="897" cy="1073" r="2.6"/><circle cx="930" cy="1125" r="2.4" stroke="#555"/><circle cx="736.5" cy="1014" r="2.6"/><circle cx="763.7" cy="1014" r="2.6"/>
<circle cx="770" cy="953.8" r="2.8"/><circle cx="722.6" cy="953.8" r="2.8"/><circle cx="770" cy="897" r="2.8"/><circle cx="849.5" cy="897" r="2.8"/><circle cx="925" cy="897" r="2.8"/><circle cx="850" cy="954" r="2.8"/><circle cx="926" cy="954" r="2.8"/><circle cx="917" cy="1014" r="2.8"/><circle cx="845.7" cy="720.6" r="2.6"/>
</g>
<circle cx="660.6" cy="692.5" r="3" fill="#1a1a1a"/>
<circle cx="722.6" cy="953.8" r="2.2" fill="#333"/>
<!-- light nodes on dark wing -->
<g fill="#999" stroke="#eee" stroke-width="1">
<circle cx="340.6" cy="631" r="2.6"/><circle cx="398.4" cy="647" r="2.6"/><circle cx="453.9" cy="668" r="2.6"/><circle cx="508.6" cy="694.4" r="2.6"/><circle cx="559.4" cy="727.8" r="2.6"/><circle cx="605" cy="771.8" r="2.6"/><circle cx="645.3" cy="827.3" r="2.6"/><circle cx="626.9" cy="869.5" r="2.6"/><circle cx="563.2" cy="864.2" r="2.6"/><circle cx="538.6" cy="920.5" r="2.6"/><circle cx="473.4" cy="920" r="2.6"/><circle cx="514.4" cy="974" r="2.6"/><circle cx="428.5" cy="872" r="2.6"/><circle cx="382.4" cy="829.8" r="2.6"/><circle cx="333.6" cy="792.2" r="2.6"/><circle cx="369.9" cy="712.7" r="2.6"/>
</g>
<g fill="#333" stroke="#222" stroke-width=".8"><ellipse cx="304" cy="624" rx="4" ry="3.4"/><ellipse cx="322" cy="700" rx="3.6" ry="3.6"/></g>
<g fill="none" stroke="#999" stroke-width="1"><circle cx="298" cy="623" r="3.4"/><circle cx="316" cy="698" r="3.4"/></g>

<!-- lower ghost -->
<g fill="none">
<path d="M741,1272 C730,1290 722,1310 718,1327 C716,1340 722,1345 730,1347 L791,1364 L847,1382" stroke="url(#fadeT)" stroke-width="1.6"/>
<path d="M716,1325 C713,1345 725,1348 732,1352 L791,1367 L850,1385" stroke="#ccc" stroke-width="1"/>
<path d="M725,1290 L705,1339 C695,1355 696,1365 703,1376 C708,1384 712,1385 717,1385 L772,1393 L847,1404" stroke="url(#fadeR)" stroke-width="1"/>
<path d="M713,1301 L703,1323 L705,1339 L711,1345 L725,1351 M734,1354 L828,1380" stroke="#333" stroke-width=".9" stroke-dasharray="12 5"/>
<path d="M696,1405 L730,1345 L747,1314" stroke="#222" stroke-width=".9" stroke-dasharray="28 5 4 5"/>
<path d="M747.5,1421 L795.6,1366 L813.6,1341" stroke="#222" stroke-width=".9" stroke-dasharray="28 5 4 5"/>
<path d="M795.6,1434 L842,1398" stroke="#bbb" stroke-width=".9" stroke-dasharray="14 5"/>
<path d="M747,1314 L813.6,1341" stroke="#ccc" stroke-width=".8" stroke-dasharray="22 4"/>
<path d="M807,1365 L817,1340 L828,1310" stroke="#ccc" stroke-width=".7"/>
<circle cx="747" cy="1314" r="3" stroke="#bbb" stroke-width="1"/>
<circle cx="813.6" cy="1341" r="3" stroke="#ddd" stroke-width="1"/>
</g>
<path d="M905,1220 L909,1250 M936,1255 L940,1285" stroke="#aaa" stroke-width=".7" fill="none"/>
<path d="M938,1180 L950,1279" stroke="#999" stroke-width=".8" fill="none"/>

<!-- arrows -->
<g fill="#3c3c3c">
<path d="M985,385 L1070,385 L1045,370 L1122,389 L1045,408 L1070,393.5 L985,393.5 Z"/>
<path d="M327,948 L332,951 L278,1034 L303.5,1020 L244,1072 L271,999 L270,1028 Z"/>
<path d="M851,1255 L858,1253 L890,1352 L896,1322 L901,1400 L859,1333 L883,1356 Z"/>
</g>
<text x="991.5" y="441">View to</text>
<text x="991.5" y="471.5">main roads</text>
<text x="138" y="1113">View to park</text>
<text x="848.5" y="1433.5">Connection to</text>
<text x="848.5" y="1464.5">subway station</text>
</svg>
</body>
</html>
